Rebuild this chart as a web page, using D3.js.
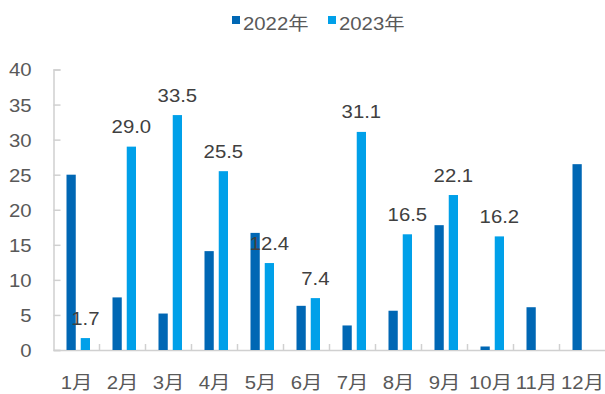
<!DOCTYPE html>
<html>
<head>
<meta charset="utf-8">
<script src="https://cdn.jsdelivr.net/npm/d3@7"></script>
<style>
  body { margin: 0; background: #fff; }
  svg text { font-family: "Liberation Sans", Arial, "Noto Sans CJK SC", sans-serif; }
</style>
</head>
<body>
<div id="chart"></div>
<script>
// months on the x axis
const months = ["1月", "2月", "3月", "4月", "5月", "6月", "7月", "8月", "9月", "10月", "11月", "12月"];
const seriesNames = ["2022年", "2023年"];
// values
const values2022 = [25.0, 7.5, 5.2, 14.1, 16.7, 6.3, 3.5, 5.6, 17.8, 0.5, 6.1, 26.5];
const values2023 = [1.7, 29.0, 33.5, 25.5, 12.4, 7.4, 31.1, 16.5, 22.1, 16.2, null, null];
const yTicks = [0, 5, 10, 15, 20, 25, 30, 35, 40];

const colors = { "2022年": "#0067b4", "2023年": "#00a0e9" };

const width = 605, height = 394;
const margin = { left: 53.5, right: 605.5, top: 69.5, bottom: 350 };
const stretch = 1.13; // text in the picture is a bit wide
const fontSize = "18px";

var svg = d3.select("#chart")
  .append("svg")
  .attr("width", width)
  .attr("height", height);

var x0 = d3.scaleBand().domain(months).range([margin.left, margin.right]).padding(0);
var x1 = d3.scaleBand().domain(seriesNames).range([-10, 13.5]).paddingInner(0.35);
var y = d3.scaleLinear().domain([0, 40]).range([margin.bottom, margin.top]);

// build rows for the bars
var data = [];
months.forEach(function(m, i) {
  data.push({ month: m, series: "2022年", value: values2022[i] });
  data.push({ month: m, series: "2023年", value: values2023[i] });
});
data = data.filter(function(d) { return d.value != null; });

// y axis, ticks pointing inside
var yAxis = svg.append("g")
  .attr("transform", "translate(" + margin.left + ",0)")
  .call(d3.axisLeft(y).tickValues(yTicks).tickSize(-7).tickPadding(0));
yAxis.select(".domain").attr("stroke", "#d0d0d0").attr("stroke-width", 1.5);
yAxis.selectAll(".tick line").attr("stroke", "#d0d0d0").attr("stroke-width", 1.5);
yAxis.selectAll(".tick text")
  .attr("x", null)
  .attr("dy", "0.36em")
  .attr("transform", "translate(-22,0) scale(" + stretch + ",1)")
  .attr("fill", "#595959")
  .style("font-size", fontSize)
  .attr("text-anchor", "end");

// x axis line and labels
var xAxis = svg.append("g")
  .attr("transform", "translate(0," + margin.bottom + ")")
  .call(d3.axisBottom(x0).tickSize(0).tickPadding(0).tickSizeOuter(0));
xAxis.select(".domain").attr("stroke", "#d0d0d0").attr("stroke-width", 1.5);
xAxis.selectAll(".tick text")
  .attr("y", null)
  .attr("dy", null)
  .attr("transform", "translate(0,38.5) scale(" + stretch + ",1)")
  .attr("fill", "#595959")
  .style("font-size", fontSize);

// small upward ticks between the months
svg.append("g")
  .selectAll("line")
  .data(months.slice(1))
  .enter()
  .append("line")
  .attr("x1", function(d) { return x0(d); })
  .attr("x2", function(d) { return x0(d); })
  .attr("y1", margin.bottom - 6)
  .attr("y2", margin.bottom)
  .attr("stroke", "#d0d0d0")
  .attr("stroke-width", 1.5);

// bars
svg.append("g")
  .selectAll("rect")
  .data(data)
  .enter()
  .append("rect")
  .attr("x", function(d) { return x0(d.month) + x0.bandwidth() / 2 + x1(d.series); })
  .attr("y", function(d) { return y(d.value); })
  .attr("width", x1.bandwidth())
  .attr("height", function(d) { return y(0) - y(d.value); })
  .attr("fill", function(d) { return colors[d.series]; });

// value labels on the 2023 bars
svg.append("g")
  .selectAll("text")
  .data(data.filter(function(d) { return d.series === "2023年"; }))
  .enter()
  .append("text")
  .attr("transform", function(d) {
    var cx = x0(d.month) + x0.bandwidth() / 2 + x1(d.series) + x1.bandwidth() / 2;
    return "translate(" + cx + "," + (y(d.value) - 13.5) + ") scale(" + stretch + ",1)";
  })
  .attr("text-anchor", "middle")
  .attr("fill", "#404040")
  .style("font-size", fontSize)
  .text(function(d) { return d.value.toFixed(1); });

// legend
var legendX = [232, 328];
var legend = svg.append("g")
  .selectAll("g")
  .data(seriesNames)
  .enter()
  .append("g")
  .attr("transform", function(d, i) { return "translate(" + legendX[i] + ",16)"; });
legend.append("rect")
  .attr("width", 8)
  .attr("height", 8)
  .attr("fill", function(d) { return colors[d]; });
legend.append("text")
  .attr("transform", "translate(11,13.5) scale(" + stretch + ",1)")
  .attr("fill", "#595959")
  .style("font-size", fontSize)
  .text(function(d) { return d; });
</script>
</body>
</html>
